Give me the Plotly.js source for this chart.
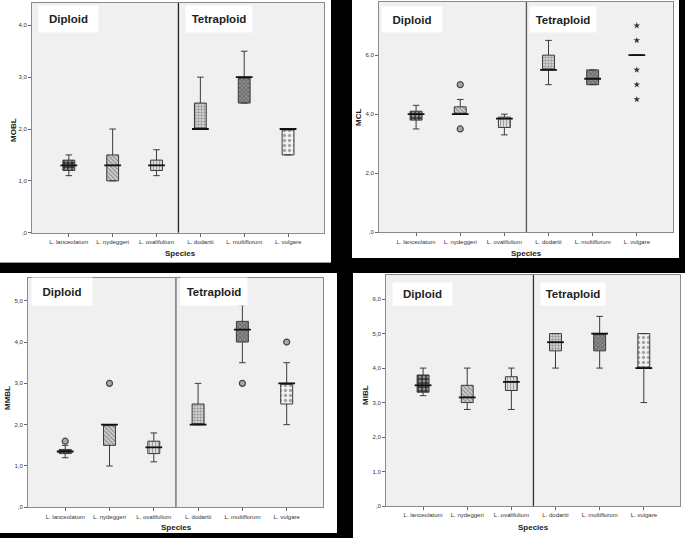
<!DOCTYPE html>
<html><head><meta charset="utf-8">
<script src="https://cdn.plot.ly/plotly-3.0.1.min.js"></script>
<style>html,body{margin:0;padding:0;background:#000;}#chart{width:685px;height:538px;}</style>
</head><body><div id="chart"></div>
<script>
const species = ['L. lanceolatum','L. nydeggeri','L. ovalifolium','L. dodartii','L. multiflorum','L. vulgare'];

// ---- MOBL (top left)
const moblQ1     = [1.2, 1.0, 1.2, 2.0, 2.5, 1.5];
const moblMedian = [1.3, 1.3, 1.3, 2.0, 3.0, 2.0];
const moblQ3     = [1.4, 1.5, 1.4, 2.5, 3.0, 2.0];
const moblLow    = [1.1, 1.0, 1.1, 2.0, 2.5, 1.5];
const moblHigh   = [1.5, 2.0, 1.6, 3.0, 3.5, 2.0];
const moblTickVals = [0, 1, 2, 3, 4];
const moblTickText = [',0', '1,0', '2,0', '3,0', '4,0'];

// ---- MCL (top right)
const mclQ1     = [3.8, 4.0, 3.55, 5.5, 5.0, 6.0];
const mclMedian = [4.0, 4.0, 3.85, 5.5, 5.2, 6.0];
const mclQ3     = [4.1, 4.25, 3.9, 6.0, 5.5, 6.0];
const mclLow    = [3.5, 4.0, 3.3, 5.0, 5.0, 6.0];
const mclHigh   = [4.3, 4.5, 4.0, 6.5, 5.5, 6.0];
const mclOutlierSpecies = ['L. nydeggeri', 'L. nydeggeri'];
const mclOutlierValues  = [5.0, 3.5];
const mclExtremeSpecies = ['L. vulgare', 'L. vulgare', 'L. vulgare', 'L. vulgare', 'L. vulgare'];
const mclExtremeValues  = [7.0, 6.5, 5.5, 5.0, 4.5];
const mclTickVals = [0, 2, 4, 6];
const mclTickText = [',0', '2,0', '4,0', '6,0'];

// ---- MMBL (bottom left)
const mmblQ1     = [1.3, 1.5, 1.3, 2.0, 4.0, 2.5];
const mmblMedian = [1.35, 2.0, 1.45, 2.0, 4.3, 3.0];
const mmblQ3     = [1.4, 2.0, 1.6, 2.5, 4.5, 3.0];
const mmblLow    = [1.2, 1.0, 1.1, 2.0, 3.5, 2.0];
const mmblHigh   = [1.5, 2.0, 1.8, 3.0, 4.9, 3.5];
const mmblOutlierSpecies = ['L. lanceolatum', 'L. nydeggeri', 'L. multiflorum', 'L. vulgare'];
const mmblOutlierValues  = [1.6, 3.0, 3.0, 4.0];
const mmblTickVals = [0, 1, 2, 3, 4, 5];
const mmblTickText = [',0', '1,0', '2,0', '3,0', '4,0', '5,0'];

// ---- MIBL (bottom right)
const miblQ1     = [3.3, 3.0, 3.35, 4.5, 4.5, 4.0];
const miblMedian = [3.5, 3.15, 3.6, 4.75, 5.0, 4.0];
const miblQ3     = [3.8, 3.5, 3.75, 5.0, 5.0, 5.0];
const miblLow    = [3.2, 2.8, 2.8, 4.0, 4.0, 3.0];
const miblHigh   = [4.0, 4.0, 4.0, 5.0, 5.5, 5.0];
const miblTickVals = [0, 1, 2, 3, 4, 5, 6];
const miblTickText = [',0', '1,0', '2,0', '3,0', '4,0', '5,0', '6,0'];

const groupLabels = ['Diploid', 'Tetraploid'];
const xTitle = 'Species';

// ---- styling
const W = 685, H = 538;
const PX = p => p / W;
const PY = p => 1 - p / H;
const patShapes = ['.', '\\', '|', '+', 'x', '.'];
const patFg = ['#f4f4f4', '#444', '#666', '#555', '#333', '#555'];
const patBg = ['#2e2e2e', '#d2d2d2', '#dadada', '#cfcfcf', '#8c8c8c', '#f2f2f2'];
const patSize = [4, 3, 3, 3, 3, 5];
const patSolid = [0.45, 0.4, 0.35, 0.35, 0.45, 0.35];
const tickFont = {family: 'Liberation Sans, Arial, sans-serif', size: 6, color: '#333'};
const boldFont = {family: 'Liberation Sans, Arial, sans-serif', size: 8, color: '#222', weight: 'bold'};
const groupFont = {family: 'Liberation Sans, Arial, sans-serif', size: 11.5, color: '#222', weight: 'bold'};

const panels = [
  {name: 'MOBL', q1: moblQ1, med: moblMedian, q3: moblQ3, lo: moblLow, hi: moblHigh, ymax: 4.43,
   tv: moblTickVals, tt: moblTickText, dom: [32, 324, 3, 232.7], outS: [], outV: [], extS: [], extV: [],
   diploid: [68.5, 19, 59, 26], tetra: [219, 19, 66, 26], ylab: [13, 130], xlab: [180, 253], div: '#222', bg: [0, 331, 0, 262]},
  {name: 'MCL', q1: mclQ1, med: mclMedian, q3: mclQ3, lo: mclLow, hi: mclHigh, ymax: 7.8,
   tv: mclTickVals, tt: mclTickText, dom: [379, 673, 2, 232.3], outS: mclOutlierSpecies, outV: mclOutlierValues, extS: mclExtremeSpecies, extV: mclExtremeValues,
   diploid: [412, 19.5, 60, 25], tetra: [563, 19.5, 66, 25], ylab: [358, 118], xlab: [526, 253], div: '#555', bg: [352, 679, 0, 258]},
  {name: 'MMBL', q1: mmblQ1, med: mmblMedian, q3: mmblQ3, lo: mmblLow, hi: mmblHigh, ymax: 5.55,
   tv: mmblTickVals, tt: mmblTickText, dom: [28, 323, 278, 507.3], outS: mmblOutlierSpecies, outV: mmblOutlierValues, extS: [], extV: [],
   diploid: [62, 291.5, 60, 27], tetra: [214, 291.5, 66, 27], ylab: [7, 398], xlab: [176, 527], div: '#666', bg: [0, 337, 273, 533]},
  {name: 'MIBL', q1: miblQ1, med: miblMedian, q3: miblQ3, lo: miblLow, hi: miblHigh, ymax: 6.7,
   tv: miblTickVals, tt: miblTickText, dom: [386, 680, 275, 506], outS: [], outV: [], extS: [], extV: [],
   diploid: [422.5, 294, 59, 22], tetra: [573, 294, 64, 22], ylab: [365, 395], xlab: [533, 527], div: '#333', bg: [353, 685, 273, 538]}
];

const traces = [];
const layout = {
  width: W, height: H, margin: {l: 0, r: 0, t: 0, b: 0},
  paper_bgcolor: '#000', plot_bgcolor: 'rgba(0,0,0,0)',
  showlegend: false, barmode: 'overlay', boxmode: 'overlay',
  shapes: [], annotations: []
};

panels.forEach((p, i) => {
  const n = i === 0 ? '' : String(i + 1);
  const xa = 'x' + n, ya = 'y' + n;
  // white panel
  layout.shapes.push({type: 'rect', xref: 'paper', yref: 'paper', layer: 'below',
    x0: PX(p.bg[0]), x1: PX(p.bg[1]), y0: PY(p.bg[3]), y1: PY(p.bg[2]),
    fillcolor: '#fff', line: {width: 0}});
  // grey plot area
  layout.shapes.push({type: 'rect', xref: 'paper', yref: 'paper', layer: 'below',
    x0: PX(p.dom[0]), x1: PX(p.dom[1]), y0: PY(p.dom[3]), y1: PY(p.dom[2]),
    fillcolor: '#f0f0f0', line: {width: 0}});
  // axes
  layout['xaxis' + n] = {
    domain: [PX(p.dom[0]), PX(p.dom[1])], anchor: ya, type: 'category',
    categoryorder: 'array', categoryarray: species, range: [-0.84, 5.82],
    showline: true, mirror: true, linecolor: '#8a8a8a', linewidth: 1,
    ticks: 'outside', ticklen: 3, tickcolor: '#666', tickfont: tickFont, tickangle: 0,
    showgrid: false, zeroline: false, fixedrange: true
  };
  layout['yaxis' + n] = {
    domain: [PY(p.dom[3]), PY(p.dom[2])], anchor: xa, range: [0, p.ymax],
    tickmode: 'array', tickvals: p.tv, ticktext: p.tt,
    showline: true, mirror: true, linecolor: '#8a8a8a', linewidth: 1,
    ticks: 'outside', ticklen: 3, tickcolor: '#666', tickfont: tickFont,
    showgrid: false, zeroline: false, fixedrange: true
  };
  // divider
  layout.shapes.push({type: 'line', xref: xa, yref: ya + ' domain', x0: 2.5, x1: 2.5, y0: 0, y1: 1,
    line: {color: p.div, width: 1.3}});
  // patterned box fill, one bar trace per species
  species.forEach((s, k) => {
    traces.push({type: 'bar', x: [s], base: [p.q1[k]], y: [p.q3[k] - p.q1[k]],
      width: 0.27, xaxis: xa, yaxis: ya, hoverinfo: 'skip',
      marker: {color: patBg[k], line: {width: 0},
        pattern: {shape: patShapes[k], fgcolor: patFg[k], size: patSize[k], solidity: patSolid[k], fillmode: 'overlay'}}});
  });
  // box outline + whiskers
  traces.push({type: 'box', x: species, q1: p.q1, median: p.med, q3: p.q3,
    lowerfence: p.lo, upperfence: p.hi, width: 0.27, whiskerwidth: 0.55,
    fillcolor: 'rgba(0,0,0,0)', line: {color: '#3a3a3a', width: 1},
    xaxis: xa, yaxis: ya, hoverinfo: 'skip'});
  // thick median
  traces.push({type: 'scatter', mode: 'markers', x: species, y: p.med, xaxis: xa, yaxis: ya,
    marker: {symbol: 'line-ew', size: 12, line: {color: '#111', width: 1.8}}, hoverinfo: 'skip'});
  if (p.outS.length) {
    traces.push({type: 'scatter', mode: 'markers', x: p.outS, y: p.outV, xaxis: xa, yaxis: ya,
      marker: {symbol: 'circle', size: 6, color: '#a8a8a8', line: {color: '#444', width: 1.2}}, hoverinfo: 'skip'});
  }
  if (p.extS.length) {
    traces.push({type: 'scatter', mode: 'markers', x: p.extS, y: p.extV, xaxis: xa, yaxis: ya,
      marker: {symbol: 'star', size: 5, color: '#333', line: {width: 0}}, hoverinfo: 'skip'});
  }
  // group labels
  [[groupLabels[0], p.diploid], [groupLabels[1], p.tetra]].forEach(([t, b]) => {
    layout.annotations.push({text: t, xref: 'paper', yref: 'paper', x: PX(b[0]), y: PY(b[1]),
      xanchor: 'center', yanchor: 'middle', width: b[2], height: b[3], bgcolor: '#fff',
      borderpad: 0, showarrow: false, font: groupFont, align: 'center', valign: 'middle'});
  });
  // axis titles
  layout.annotations.push({text: p.name, xref: 'paper', yref: 'paper', x: PX(p.ylab[0]), y: PY(p.ylab[1]),
    xanchor: 'center', yanchor: 'middle', textangle: -90, showarrow: false, font: boldFont});
  layout.annotations.push({text: xTitle, xref: 'paper', yref: 'paper', x: PX(p.xlab[0]), y: PY(p.xlab[1]),
    xanchor: 'center', yanchor: 'middle', showarrow: false, font: boldFont});
});
// thin grey edge at bottom of first panel
layout.shapes.push({type: 'line', xref: 'paper', yref: 'paper', x0: 0, x1: PX(331), y0: PY(262.5), y1: PY(262.5),
  line: {color: '#9a9a9a', width: 1}});

Plotly.newPlot('chart', traces, layout, {staticPlot: true, displayModeBar: false});
</script>
</body></html>
